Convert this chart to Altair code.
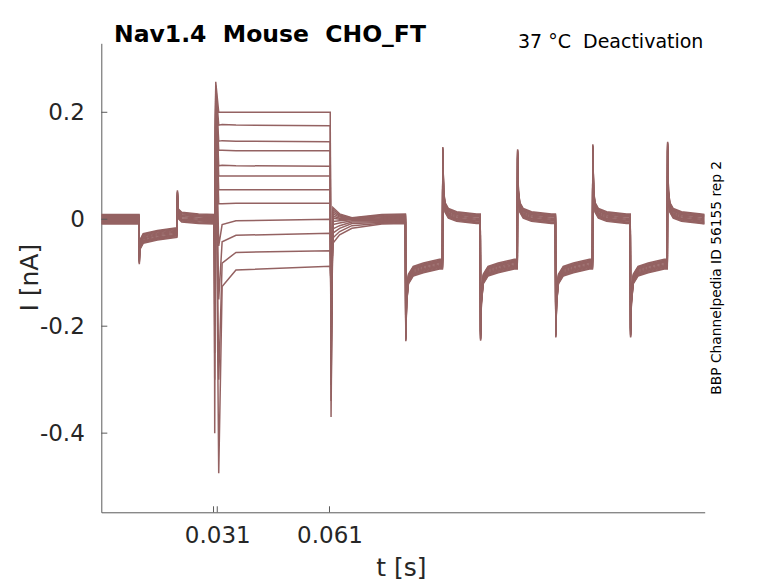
import altair as alt
import pandas as pd

# ---------------- data (t in s, I in nA) ----------------
trace_ids = list(range(1, 13))
# spread of the 12 overlaid sweeps in the shared (noisy) segments
band_off = [0.009, 0.0075, 0.006, 0.0045, 0.003, 0.001, -0.001, -0.003, -0.0045, -0.006, -0.0075, -0.009]

# shared segment before the test pulse
pre_t = [0.0000, 0.0101, 0.01016, 0.0103, 0.0112, 0.0150, 0.0202, 0.02035, 0.0206, 0.0215, 0.0260, 0.0302]
pre_i = [0.000, 0.000, -0.075, -0.048, -0.036, -0.030, -0.025, 0.045, 0.010, 0.004, 0.001, 0.000]

# test-pulse family (one value per sweep)
on_dip = [-0.40, -0.30, -0.25, -0.20, -0.16, -0.12, -0.10, -0.08, -0.06, -0.05, -0.04, -0.03]
on_peak = [0.257, 0.250, 0.245, 0.240, 0.235, 0.230, 0.225, 0.220, 0.215, 0.210, 0.205, 0.200]
late_dip = [0.200, 0.176, 0.146, 0.129, 0.100, 0.081, 0.055, 0.029, -0.050, -0.150, -0.300, -0.475]
early = [0.200, 0.177, 0.147, 0.129, 0.101, 0.081, 0.055, 0.029, -0.010, -0.042, -0.082, -0.126]
settle = [0.200, 0.176, 0.146, 0.128, 0.100, 0.081, 0.055, 0.030, -0.003, -0.030, -0.062, -0.095]
end_lvl = [0.200, 0.175, 0.145, 0.128, 0.099, 0.081, 0.055, 0.030, 0.000, -0.026, -0.059, -0.088]
off_spike = [-0.37, -0.34, -0.31, -0.28, -0.26, -0.24, -0.22, -0.20, -0.18, -0.16, -0.14, -0.12]
tail_a = [0.022, 0.018, 0.014, 0.010, 0.006, 0.002, -0.004, -0.010, -0.018, -0.026, -0.035, -0.045]
tail_b = [0.010, 0.008, 0.006, 0.004, 0.002, 0.000, -0.003, -0.007, -0.012, -0.017, -0.023, -0.029]
tail_c = [0.003, 0.002, 0.002, 0.001, 0.000, 0.000, -0.001, -0.003, -0.005, -0.008, -0.012, -0.017]
pulse_t = [0.03032, 0.03059, 0.03139, 0.0323, 0.0360, 0.0612, 0.06142, 0.0619, 0.0637, 0.0670]

# shared deactivation steps after the pulse
cyc_down_t = [0.0814, 0.1014, 0.1215, 0.1415]
cyc_up_t = [0.0913, 0.1113, 0.1314, 0.1514]
cyc_down_peak = [-0.219, -0.218, -0.212, -0.212]
cyc_up_peak = [0.126, 0.122, 0.131, 0.136]
low_dt = [0.0002, 0.0007, 0.0020, 0.0047, 0.0090]
low_i = [-0.150, -0.112, -0.097, -0.091, -0.084]
high_dt = [0.0002, 0.0006, 0.0015, 0.0037, 0.0090]
high_i = [0.045, 0.022, 0.011, 0.005, 0.001]
post_start_t = 0.0750
t_end = 0.1613

# axis ticks
xtick_vals = [0.030, 0.031, 0.061]
ytick_vals = [-0.4, -0.2, 0.0, 0.2]

NB = "\u00a0"
title_txt = "Nav1.4" + NB + " Mouse" + NB + " CHO_FT"
cond_txt = "37 °C" + NB + " Deactivation"
id_txt = "BBP Channelpedia ID 56155 rep 2"

# ---------------- build table ----------------
rows = []
for k, tr in enumerate(trace_ids):
    off = band_off[k]
    pts = [(t, v + off) for t, v in zip(pre_t, pre_i)]
    pulse_v = [on_dip[k], on_peak[k], late_dip[k], early[k], settle[k], end_lvl[k],
               off_spike[k], tail_a[k], tail_b[k], tail_c[k]]
    pts += list(zip(pulse_t, pulse_v))
    pts.append((post_start_t, off))
    for c in range(4):
        td, tu = cyc_down_t[c], cyc_up_t[c]
        pts.append((td - 0.0001, high_i[-1] + off))
        pts.append((td, cyc_down_peak[c] + off))
        pts += [(td + dt, v + off) for dt, v in zip(low_dt, low_i)]
        pts.append((tu - 0.0001, low_i[-1] + off))
        pts.append((tu, cyc_up_peak[c] + off))
        pts += [(tu + dt, v + off) for dt, v in zip(high_dt, high_i)]
    pts.append((t_end, off))
    for j, (t, v) in enumerate(pts):
        rows.append({"trace": tr, "seq": j, "t": t, "i": v})
df = pd.DataFrame(rows)

# ---------------- chart ----------------
W, H = 603.4, 469
FONT = "DejaVu Sans"
AX = "#5a5a5a"
TXT = "#262626"
LINE = "#946262"

xscale = alt.Scale(domain=[0, t_end], nice=False, zero=False)
yscale = alt.Scale(domain=[-0.548, 0.329], nice=False, zero=False)

xaxis = alt.Axis(values=xtick_vals, labelExpr="datum.value == 0.03 ? '' : '' + datum.value",
                 title="t [s]", titleX=299.7, titleY=63.2, titleBaseline="alphabetic",
                 titleAlign="center", titleFontSize=25, titleFontWeight="normal",
                 titleColor=TXT, titleFont=FONT, labelFont=FONT, labelFontSize=23,
                 labelColor=TXT, labelPadding=12, labelOverlap=False, labelFlush=False,
                 ticks=False, grid=False, domainColor=AX, domainWidth=1)
yaxis = alt.Axis(values=ytick_vals, labelExpr="'' + datum.value",
                 title="I [nA]", titleX=-63.8, titleY=233.9, titleAngle=270,
                 titleBaseline="alphabetic", titleAlign="center", titleFontSize=25,
                 titleFontWeight="normal", titleColor=TXT, titleFont=FONT, labelFont=FONT,
                 labelFontSize=23, labelColor=TXT, labelPadding=17, labelOverlap=False,
                 labelFlush=False, ticks=False, grid=False, domainColor=AX, domainWidth=1)

x_enc = alt.X("t:Q", scale=xscale, axis=xaxis)
y_enc = alt.Y("i:Q", scale=yscale, axis=yaxis)

lines = alt.Chart(df).mark_line(color=LINE, strokeWidth=1.5, clip=True).encode(
    x=x_enc, y=y_enc, detail="trace:N", order="seq:Q"
)

xt = alt.Chart(pd.DataFrame({"t": xtick_vals})).mark_rule(color=AX, strokeWidth=1).encode(
    x=x_enc, y=alt.value(H), y2=alt.value(H - 6)
)
yt = alt.Chart(pd.DataFrame({"i": ytick_vals})).mark_rule(color=AX, strokeWidth=1).encode(
    y=y_enc, x=alt.value(0), x2=alt.value(6)
)

title = alt.Chart(pd.DataFrame({"s": [title_txt]})).mark_text(
    font=FONT, fontSize=23.5, fontWeight="bold", align="left", baseline="alphabetic", color="black"
).encode(text="s:N", x=alt.value(12.7), y=alt.value(-1))

cond = alt.Chart(pd.DataFrame({"s": [cond_txt]})).mark_text(
    font=FONT, fontSize=19, align="right", baseline="alphabetic", color="black"
).encode(text="s:N", x=alt.value(602.1), y=alt.value(4.4))

ident = alt.Chart(pd.DataFrame({"s": [id_txt]})).mark_text(
    font=FONT, fontSize=13.8, align="center", baseline="alphabetic", angle=270, color="black"
).encode(text="s:N", x=alt.value(619.7), y=alt.value(234.5))

chart = alt.layer(lines, xt, yt, title, cond, ident).properties(
    width=W, height=H,
    autosize=alt.AutoSizeParams(type="none"),
    padding={"left": 93.3, "top": 35.3, "right": 60, "bottom": 70},
    background="white",
).configure_view(strokeWidth=0)

chart.save("out.html", embed_options={"renderer": "svg", "actions": False})
